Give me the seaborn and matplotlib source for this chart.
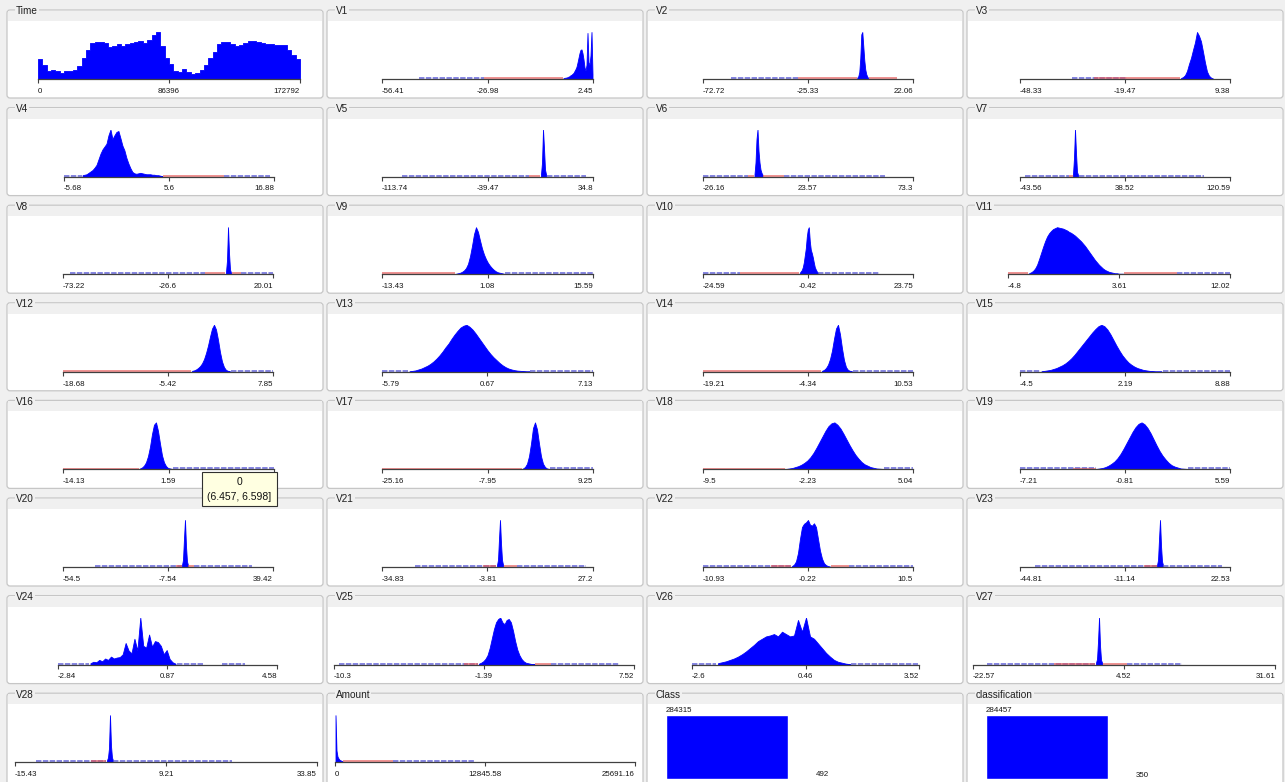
import numpy as np
import pandas as pd
import matplotlib
matplotlib.use("Agg")
import matplotlib.pyplot as plt
from matplotlib.patches import FancyBboxPatch, Rectangle
import seaborn as sns

sns.set_theme(style="white")
plt.rcParams["font.family"] = ["Liberation Sans", "DejaVu Sans"]

# ---------------- data ----------------
attributes = ["Time"] + [f"V{k}" for k in range(1, 29)] + ["Amount"]

axis_min = [0, -56.41, -72.72, -48.33, -5.68, -113.74, -26.16, -43.56,
            -73.22, -13.43, -24.59, -4.8, -18.68, -5.79, -19.21, -4.5,
            -14.13, -25.16, -9.5, -7.21, -54.5, -34.83, -10.93, -44.81,
            -2.84, -10.3, -2.6, -22.57, -15.43, 0]
axis_max = [172792, 2.45, 22.06, 9.38, 16.88, 34.8, 73.3, 120.59,
            20.01, 15.59, 23.75, 12.02, 7.85, 7.13, 10.53, 8.88,
            17.31, 9.25, 5.04, 5.59, 39.42, 27.2, 10.5, 22.53,
            4.58, 7.52, 3.52, 31.61, 33.85, 25691.16]
tick_text = [
    ("0", "86396", "172792"), ("-56.41", "-26.98", "2.45"),
    ("-72.72", "-25.33", "22.06"), ("-48.33", "-19.47", "9.38"),
    ("-5.68", "5.6", "16.88"), ("-113.74", "-39.47", "34.8"),
    ("-26.16", "23.57", "73.3"), ("-43.56", "38.52", "120.59"),
    ("-73.22", "-26.6", "20.01"), ("-13.43", "1.08", "15.59"),
    ("-24.59", "-0.42", "23.75"), ("-4.8", "3.61", "12.02"),
    ("-18.68", "-5.42", "7.85"), ("-5.79", "0.67", "7.13"),
    ("-19.21", "-4.34", "10.53"), ("-4.5", "2.19", "8.88"),
    ("-14.13", "1.59", "17.31"), ("-25.16", "-7.95", "9.25"),
    ("-9.5", "-2.23", "5.04"), ("-7.21", "-0.81", "5.59"),
    ("-54.5", "-7.54", "39.42"), ("-34.83", "-3.81", "27.2"),
    ("-10.93", "-0.22", "10.5"), ("-44.81", "-11.14", "22.53"),
    ("-2.84", "0.87", "4.58"), ("-10.3", "-1.39", "7.52"),
    ("-2.6", "0.46", "3.52"), ("-22.57", "4.52", "31.61"),
    ("-15.43", "9.21", "33.85"), ("0", "12845.58", "25691.16"),
]

# value range covered by the dense part of each histogram
bin_start = [0, -5.92, -3.3, -4.36, -3.79, -2.15, -2.0, -2.52,
             -1.07, -3.39, -2.42, -3.28, -2.5, -4.2, -2.5, -3.23,
             -2.81, -2.33, -3.83, -2.64, -1.51, -1.17, -1.95, -1.03,
             -1.79, -1.75, -1.953, -0.59, -0.5, 0]
bin_end = [172792, 2.45, 2.1, 4.98, 4.98, 2.07, 2.26, 2.17,
           1.59, 3.48, 1.95, 3.99, 2.54, 3.33, 2.03, 4.6,
           2.26, 2.24, 3.03, 3.04, 1.62, 0.89, 2.13, 1.21,
           1.19, 1.66, 1.714, 0.67, 0.64, 685]

# relative bar heights (1.0 = tallest bar of the attribute)
h_time = [0.42, 0.30, 0.17, 0.20, 0.16, 0.12, 0.16, 0.17, 0.19, 0.28,
          0.45, 0.62, 0.77, 0.79, 0.78, 0.76, 0.69, 0.71, 0.74, 0.71,
          0.74, 0.76, 0.78, 0.80, 0.76, 0.84, 0.93, 1.00, 0.70, 0.45,
          0.32, 0.17, 0.14, 0.22, 0.14, 0.11, 0.13, 0.19, 0.30, 0.45,
          0.58, 0.74, 0.78, 0.78, 0.74, 0.71, 0.72, 0.76, 0.80, 0.81,
          0.79, 0.77, 0.75, 0.74, 0.73, 0.73, 0.72, 0.62, 0.52, 0.42]
h_v1 = [0.02, 0.02, 0.03, 0.03, 0.04, 0.05, 0.06, 0.08, 0.09, 0.11,
        0.13, 0.17, 0.21, 0.26, 0.35, 0.45, 0.55, 0.62, 0.63, 0.55,
        0.42, 0.25, 0.18, 0.30, 0.98, 0.35, 0.30, 0.50, 1.00, 0.10]
h_v2 = [0.03, 0.06, 0.15, 0.45, 0.95, 1.0, 0.7, 0.4, 0.2, 0.1, 0.05, 0.02]
h_v3 = [0.02, 0.04, 0.08, 0.17, 0.32, 0.45, 0.62, 0.78, 1.0, 0.92,
        0.80, 0.58, 0.35, 0.16, 0.07, 0.03, 0.01]
h_v4 = [0.03, 0.04, 0.05, 0.08, 0.11, 0.14, 0.19, 0.25, 0.37, 0.49,
        0.58, 0.64, 0.70, 0.88, 1.00, 0.80, 0.88, 0.95, 0.97, 0.82,
        0.66, 0.56, 0.40, 0.28, 0.18, 0.10, 0.07, 0.06, 0.07, 0.08,
        0.07, 0.06, 0.05, 0.05, 0.05, 0.04, 0.04, 0.03, 0.03, 0.02, 0.01]
h_v5 = [0.05, 0.3, 1.0, 0.6, 0.15, 0.05]
h_v6 = [0.05, 0.3, 0.8, 1.0, 0.55, 0.3, 0.15, 0.08, 0.04]
h_v7 = [0.05, 0.4, 1.0, 0.5, 0.1, 0.04]
h_v8 = [0.05, 0.3, 1.0, 0.45, 0.1, 0.03]
h_v9 = [0.01, 0.02, 0.03, 0.05, 0.08, 0.13, 0.22, 0.38, 0.6, 0.85,
        1.0, 0.9, 0.72, 0.55, 0.42, 0.32, 0.24, 0.18, 0.13, 0.09,
        0.06, 0.04, 0.03, 0.02, 0.01]
h_v10 = [0.03, 0.06, 0.09, 0.15, 0.25, 0.4, 0.55, 0.8, 0.95, 1.0,
         0.7, 0.52, 0.45, 0.36, 0.25, 0.15, 0.1, 0.06, 0.03]
h_v11 = [0.02, 0.04, 0.07, 0.12, 0.2, 0.32, 0.45, 0.58, 0.7, 0.8,
         0.87, 0.92, 0.96, 0.98, 1.0, 0.99, 0.98, 0.97, 0.95, 0.93,
         0.9, 0.88, 0.85, 0.82, 0.78, 0.74, 0.7, 0.65, 0.6, 0.54,
         0.48, 0.42, 0.36, 0.3, 0.25, 0.2, 0.16, 0.12, 0.09, 0.07,
         0.05, 0.04, 0.03, 0.02, 0.02, 0.01, 0.01, 0.01]
h_v12 = [0.02, 0.03, 0.05, 0.08, 0.12, 0.18, 0.27, 0.4, 0.56, 0.75,
         0.92, 1.0, 0.9, 0.68, 0.42, 0.22, 0.1, 0.04, 0.02, 0.01]
h_v13 = [0.01, 0.02, 0.03, 0.05, 0.07, 0.1, 0.13, 0.17, 0.22, 0.28,
         0.35, 0.43, 0.52, 0.6, 0.7, 0.79, 0.87, 0.94, 0.98, 1.0,
         0.96, 0.9, 0.82, 0.73, 0.64, 0.55, 0.46, 0.38, 0.31, 0.25,
         0.19, 0.14, 0.1, 0.07, 0.05, 0.035, 0.025, 0.02, 0.015, 0.01, 0.01]
h_v14 = [0.02, 0.04, 0.08, 0.15, 0.27, 0.45, 0.7, 0.92, 1.0, 0.8,
         0.5, 0.25, 0.1, 0.04, 0.02, 0.01]
h_v15 = [0.01, 0.02, 0.03, 0.04, 0.06, 0.08, 0.11, 0.14, 0.18, 0.23,
         0.29, 0.36, 0.44, 0.52, 0.6, 0.68, 0.76, 0.84, 0.91, 0.97,
         1.0, 0.97, 0.9, 0.8, 0.68, 0.56, 0.45, 0.35, 0.27, 0.2,
         0.15, 0.11, 0.08, 0.06, 0.04, 0.03, 0.02, 0.015, 0.01, 0.01, 0.01]
h_v16 = [0.02, 0.04, 0.08, 0.15, 0.28, 0.48, 0.75, 0.95, 1.0, 0.82,
         0.55, 0.3, 0.15, 0.07, 0.03, 0.02, 0.01]
h_v17 = [0.02, 0.05, 0.12, 0.28, 0.55, 0.88, 1.0, 0.85, 0.55, 0.28,
         0.12, 0.05, 0.02, 0.01]
h_v18 = [0.01, 0.02, 0.03, 0.05, 0.07, 0.1, 0.14, 0.19, 0.26, 0.35,
         0.46, 0.58, 0.7, 0.82, 0.92, 0.98, 1.0, 0.95, 0.87, 0.76,
         0.64, 0.52, 0.41, 0.31, 0.23, 0.16, 0.11, 0.08, 0.05, 0.035,
         0.02, 0.015, 0.01]
h_v19 = [0.01, 0.02, 0.03, 0.05, 0.08, 0.12, 0.17, 0.24, 0.33, 0.44,
         0.56, 0.68, 0.8, 0.9, 0.97, 1.0, 0.96, 0.88, 0.77, 0.64,
         0.51, 0.39, 0.29, 0.21, 0.14, 0.09, 0.06, 0.04, 0.02, 0.015, 0.01]
h_v20 = [0.04, 0.15, 0.6, 1.0, 0.45, 0.12, 0.04]
h_v21 = [0.04, 0.15, 0.6, 1.0, 0.5, 0.15, 0.05]
h_v22 = [0.02, 0.05, 0.12, 0.3, 0.6, 0.85, 0.92, 0.95, 1.0, 0.9,
         0.88, 0.93, 0.85, 0.6, 0.35, 0.18, 0.08, 0.04, 0.02, 0.01]
h_v23 = [0.04, 0.15, 0.6, 1.0, 0.45, 0.12, 0.04]
h_v24 = [0.03, 0.06, 0.05, 0.10, 0.07, 0.13, 0.10, 0.17, 0.13, 0.15,
         0.16, 0.22, 0.46, 0.30, 0.24, 0.55, 0.30, 1.00, 0.40, 0.36,
         0.64, 0.38, 0.50, 0.48, 0.40, 0.22, 0.31, 0.12, 0.05, 0.02]
h_v25 = [0.02, 0.04, 0.07, 0.12, 0.2, 0.35, 0.55, 0.75, 0.9, 0.97,
         1.0, 0.9, 0.86, 0.95, 0.97, 0.9, 0.72, 0.5, 0.32, 0.2,
         0.12, 0.07, 0.04, 0.03, 0.02, 0.01, 0.01]
h_v26 = [0.03, 0.05, 0.07, 0.1, 0.13, 0.17, 0.22, 0.28, 0.35, 0.42,
         0.5, 0.55, 0.6, 0.62, 0.65, 0.6, 0.7, 0.65, 0.6, 0.62,
         0.95, 0.7, 1.0, 0.6, 0.55, 0.45, 0.35, 0.25, 0.17, 0.1,
         0.06, 0.04, 0.02, 0.01]
h_v27 = [0.04, 0.12, 0.5, 1.0, 0.4, 0.1, 0.04]
h_v28 = [0.04, 0.1, 0.3, 1.0, 0.35, 0.1, 0.04]
h_amount = [1.0, 0.25, 0.12, 0.08, 0.05, 0.04, 0.03, 0.02]

heights = [h_time, h_v1, h_v2, h_v3, h_v4, h_v5, h_v6, h_v7, h_v8, h_v9,
           h_v10, h_v11, h_v12, h_v13, h_v14, h_v15, h_v16, h_v17, h_v18,
           h_v19, h_v20, h_v21, h_v22, h_v23, h_v24, h_v25, h_v26, h_v27,
           h_v28, h_amount]

# sparse low-count stretches along the axis: (from, to, class colour)
sparse_runs = [
    [],
    [(-46, -28, "b"), (-28, -5.9, "r")],
    [(-60, -30, "b"), (-30, -3.3, "r"), (2.1, 15, "r")],
    [(-34, -19, "b"), (-28, -4.4, "r")],
    [(-5.68, -3.8, "b"), (5.0, 11.5, "r"), (11.5, 16.5, "b")],
    [(-100, -10, "b"), (-10, -2.2, "r"), (2.1, 30, "b")],
    [(-26, -5, "b"), (-5, -2.0, "r"), (2.3, 12, "r"), (12, 60, "b")],
    [(-40, -5, "b"), (-5, -2.5, "r"), (2.2, 100, "b")],
    [(-70, -10, "b"), (-10, -1.1, "r"), (1.6, 6, "r"), (6, 20, "b")],
    [(-13.43, -3.4, "r"), (3.5, 15.59, "b")],
    [(-24.59, -16, "b"), (-16, -2.4, "r"), (1.95, 16, "b")],
    [(-4.8, -3.3, "r"), (4.0, 8, "r"), (8, 12, "b")],
    [(-18.68, -2.5, "r"), (2.5, 7.85, "b")],
    [(-5.79, -4.2, "b"), (3.3, 7.13, "b")],
    [(-19.21, -2.5, "r"), (2.0, 10.53, "b")],
    [(-4.5, -3.2, "b"), (4.6, 8.88, "b")],
    [(-14.13, -2.8, "r"), (2.3, 17.31, "b")],
    [(-25.16, -2.3, "r"), (2.2, 9.25, "b")],
    [(-9.5, -3.8, "r"), (3.0, 5.04, "b")],
    [(-7.21, -2.6, "b"), (-4.0, -2.6, "r"), (3.0, 5.59, "b")],
    [(-40, -1.5, "b"), (-4, -1.5, "r"), (1.6, 4, "r"), (4, 30, "b")],
    [(-25, -1.2, "b"), (-5, -1.2, "r"), (0.9, 5, "r"), (5, 25, "b")],
    [(-10.93, -2, "b"), (-4, -2, "r"), (2.1, 4, "r"), (4, 10.5, "b")],
    [(-40, -1, "b"), (-5, -1, "r"), (1.2, 20, "b")],
    [(-2.84, -1.8, "b"), (1.2, 2.1, "b"), (2.7, 3.5, "b")],
    [(-10, -1.75, "b"), (-2.6, -1.75, "r"), (1.66, 2.6, "r"), (2.6, 6.6, "b")],
    [(-2.6, -1.95, "b"), (1.7, 3.5, "b")],
    [(-20, -0.6, "b"), (-8, -0.6, "r"), (0.67, 5, "r"), (5, 15, "b")],
    [(-12, -0.5, "b"), (-3, -0.5, "r"), (0.64, 20, "b")],
    [(685, 5000, "r"), (5000, 12000, "b")],
]

class_levels = ["0", "1"]
class_counts = [284315, 492]
classification_counts = [284457, 350]

tooltip_lines = ["0", "(6.457, 6.598]"]

# ---------------- layout (pixels) ----------------
W, H = 1285, 782
col_left = [7, 327, 647, 967]
col_w = 316
row_top = [10 + 97.6 * k for k in range(8)]
axis_px = [(38, 300), (382, 593), (703, 913), (1020, 1230),
           (64, 274), (382, 593), (703, 913), (1020, 1230),
           (63, 273), (382, 593), (703, 913), (1008, 1230),
           (63, 273), (382, 593), (703, 913), (1020, 1230),
           (63, 274), (382, 593), (703, 913), (1020, 1230),
           (63, 273), (382, 593), (703, 913), (1020, 1230),
           (58, 277), (334, 634), (692, 919), (973, 1275),
           (15, 317), (335, 635)]
bar_max_px = 47
blue, red = "#0000ff", "#ff2020"
sparse_blue, sparse_red = "#5a5ad8", "#e85a5a"
axis_col = "#404040"

fig = plt.figure(figsize=(W / 100, H / 100), dpi=100, facecolor="#f0f0f0")

bg = fig.add_axes([0, 0, 1, 1], zorder=0)
bg.set_xlim(0, W)
bg.set_ylim(H, 0)
bg.axis("off")

titles = attributes + ["Class", "classification"]
for idx, title in enumerate(titles):
    r, c = divmod(idx, 4)
    top = row_top[r]
    h = 88 if r < 7 else 100
    x0 = col_left[c]
    bg.add_patch(FancyBboxPatch((x0, top), col_w, h,
                                boxstyle="round,pad=0,rounding_size=3",
                                fc="white", ec="#c6c6c6", lw=0.9))
    bg.add_patch(Rectangle((x0 + 1, top + 1), col_w - 2, 10,
                           fc="#f0f0f0", ec="none"))
    bg.text(x0 + 9, top + 1.5, title, fontsize=7.2, color="#202020",
            ha="left", va="center",
            bbox=dict(fc="#f0f0f0", ec="none", pad=0.6))


def fig_rect(x0, x1, y_base, height_px):
    return [x0 / W, 1 - y_base / H, (x1 - x0) / W, height_px / H]


for i, name in enumerate(attributes):
    r, c = divmod(i, 4)
    L, R = axis_px[i]
    y_axis = row_top[r] + 69
    ax = fig.add_axes(fig_rect(L, R, y_axis, bar_max_px), zorder=2)
    ax.patch.set_alpha(0)

    vals = np.asarray(heights[i], dtype=float)
    n_bins = len(vals)
    width = (bin_end[i] - bin_start[i]) / n_bins
    hist_df = pd.DataFrame({
        "value": bin_start[i] + width * (np.arange(n_bins) + 0.5),
        "weight": vals,
    })
    ytop = vals.max()

    for lo, hi, col in sparse_runs[i]:
        if col == "b":
            ax.hlines(ytop * 0.022, lo, hi, colors=sparse_blue,
                      linewidth=1.3, linestyles=(0, (3.0, 0.8)), alpha=0.8)
    for lo, hi, col in sparse_runs[i]:
        if col == "r":
            ax.hlines(ytop * 0.018, lo, hi, colors=sparse_red,
                      linewidth=1.1, alpha=0.85)

    element = "step" if name == "Time" else "poly"
    sns.histplot(data=hist_df, x="value", weights="weight", bins=n_bins,
                 binrange=(bin_start[i], bin_end[i]), element=element,
                 fill=True, color=blue, alpha=1.0, edgecolor=blue,
                 linewidth=0.6, ax=ax)

    ax.set_xlim(axis_min[i], axis_max[i])
    ax.set_ylim(0, ytop)
    ax.set_xlabel("")
    ax.set_ylabel("")
    ax.set_yticks([])
    mid = 0.5 * (axis_min[i] + axis_max[i])
    ax.set_xticks([axis_min[i], mid, axis_max[i]])
    ax.set_xticklabels(tick_text[i], fontsize=5.7, color="#151515")
    labs = ax.get_xticklabels()
    labs[0].set_ha("left")
    labs[2].set_ha("right")
    ax.tick_params(axis="x", direction="out", length=3.2, width=0.8,
                   color=axis_col, pad=3.2, bottom=True)
    for side in ("top", "left", "right"):
        ax.spines[side].set_visible(False)
    ax.spines["bottom"].set_color(axis_col)
    ax.spines["bottom"].set_linewidth(0.9)

# nominal attributes: bar chart of class frequencies
for left_px, counts in ((666, class_counts), (986, classification_counts)):
    ax = fig.add_axes(fig_rect(left_px, left_px + 244, 779, 64), zorder=2)
    ax.patch.set_alpha(0)
    df = pd.DataFrame({"level": class_levels, "n": counts})
    sns.barplot(data=df, x="level", y="n", color=blue, saturation=1,
                width=1.0, ax=ax)
    ax.set_xlim(-0.5, 1.5)
    ax.set_ylim(0, max(counts))
    ax.annotate(str(counts[0]), (-0.5, counts[0]), xytext=(0, 0.6),
                textcoords="offset points", ha="left", va="bottom",
                fontsize=5.7, color="#151515", annotation_clip=False)
    ax.annotate(str(counts[1]), (0.78, counts[1]), xytext=(0, 0.3),
                textcoords="offset points", ha="center", va="bottom",
                fontsize=5.7, color="#151515", annotation_clip=False)
    ax.axis("off")

# hover tooltip on the V16 histogram
ov = fig.add_axes([0, 0, 1, 1], zorder=20)
ov.set_xlim(0, W)
ov.set_ylim(H, 0)
ov.axis("off")
ov.patch.set_alpha(0)
ov.add_patch(Rectangle((202, 472), 75, 34, fc="#ffffe1", ec="#303030",
                       lw=0.8))
ov.text(239.5, 482, tooltip_lines[0], ha="center", va="center",
        fontsize=7.5, color="#101010")
ov.text(239.5, 497, tooltip_lines[1], ha="center", va="center",
        fontsize=7.5, color="#101010")

fig.savefig("out.png", dpi=100, facecolor=fig.get_facecolor())
